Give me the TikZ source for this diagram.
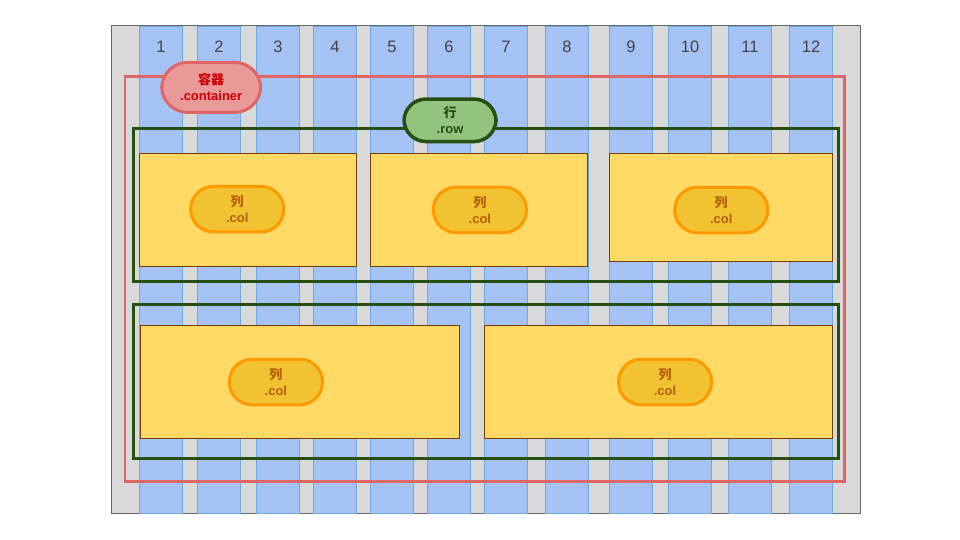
\documentclass[tikz,border=0pt]{standalone}
\usepackage{fontspec}
\setmainfont{Liberation Sans}
\newfontfamily\cjk{Noto Sans CJK SC}
\definecolor{bggray}{HTML}{D9D9D9}
\definecolor{bgline}{HTML}{666666}
\definecolor{colfill}{HTML}{A4C2F4}
\definecolor{colline}{HTML}{6FA8DC}
\definecolor{numtext}{HTML}{434343}
\definecolor{redline}{HTML}{E06666}
\definecolor{redfill}{HTML}{EA9999}
\definecolor{redtext}{HTML}{CC0000}
\definecolor{greenline}{HTML}{274E13}
\definecolor{greenfill}{HTML}{93C47D}
\definecolor{yellowfill}{HTML}{FFD966}
\definecolor{yellowline}{HTML}{783F04}
\definecolor{orangefill}{HTML}{F1C232}
\definecolor{orangeline}{HTML}{FF9900}
\definecolor{orangetext}{HTML}{B45F06}
\tikzset{
  frame/.style={draw, rectangle, inner sep=0pt, outer sep=0pt, anchor=north west},
  gridcol/.style={frame, fill=colfill, draw=colline, line width=0.8pt, minimum width=43.4pt, minimum height=487pt},
  numlabel/.style={text=numtext, font=\fontsize{16.5}{18}\selectfont},
  containerbox/.style={frame, draw=redline, line width=2.6pt},
  rowbox/.style={frame, draw=greenline, line width=2.6pt},
  colbox/.style={frame, fill=yellowfill, draw=yellowline, line width=1pt},
  pill/.style={draw, rectangle, inner sep=0pt, align=center, font=\fontsize{13}{16}\selectfont\bfseries},
  containerpill/.style={pill, fill=redfill, draw=redline, line width=3pt, text=redtext, rounded corners=26pt, minimum width=99pt, minimum height=50pt},
  rowpill/.style={pill, fill=greenfill, draw=greenline, line width=3.5pt, text=greenline, rounded corners=22pt, minimum width=92pt, minimum height=42.5pt},
  colpill/.style={pill, fill=orangefill, draw=orangeline, line width=3pt, text=orangetext, rounded corners=22.5pt, minimum width=93pt, minimum height=45.5pt}
}
\begin{document}
\begin{tikzpicture}[x=1pt,y=-1pt]
\useasboundingbox (0,0) rectangle (960,540);
% background
\node[frame, fill=bggray, draw=bgline, line width=1pt, minimum width=749pt, minimum height=487pt] (bg) at (111,26) {};
% grid columns
\foreach \x [count=\i] in {139.3,197.3,256.3,313.3,370.3,427.3,484.3,545.3,609.3,668.3,728.3,789.3} {
  \node[gridcol] (g\i) at (\x,26) {};
  \node[numlabel] (n\i) at (\x+21.7,46.7) {\i};
}
% container
\node[containerbox, minimum width=719.3pt, minimum height=404.6pt] (container) at (125,76.7) {};
% rows
\node[rowbox, minimum width=705.2pt, minimum height=153.4pt] (row1) at (133.3,128.3) {};
\node[rowbox, minimum width=705.2pt, minimum height=154pt] (row2) at (133.3,304.3) {};
% columns
\node[colbox, minimum width=217.4pt, minimum height=112.7pt] (c1) at (139.3,153.3) {};
\node[colbox, minimum width=217.4pt, minimum height=112.7pt] (c2) at (370.3,153.3) {};
\node[colbox, minimum width=223.4pt, minimum height=108pt] (c3) at (609.3,153.3) {};
\node[colbox, minimum width=319pt, minimum height=113pt] (c4) at (140.3,325.3) {};
\node[colbox, minimum width=348pt, minimum height=113pt] (c5) at (484.3,325.3) {};
% pills
\node[containerpill] (containerlabel) at (211.2,87.4) {{\cjk 容器}\\.container};
\node[rowpill] (rowlabel) at (450,120.3) {{\cjk 行}\\.row};
\node[colpill] (p1) at (237.2,209.2) {{\cjk 列}\\.col};
\node[colpill] (p2) at (479.9,209.9) {{\cjk 列}\\.col};
\node[colpill] (p3) at (721.2,210) {{\cjk 列}\\.col};
\node[colpill] (p4) at (275.9,382) {{\cjk 列}\\.col};
\node[colpill] (p5) at (665,382) {{\cjk 列}\\.col};
\end{tikzpicture}
\end{document}
